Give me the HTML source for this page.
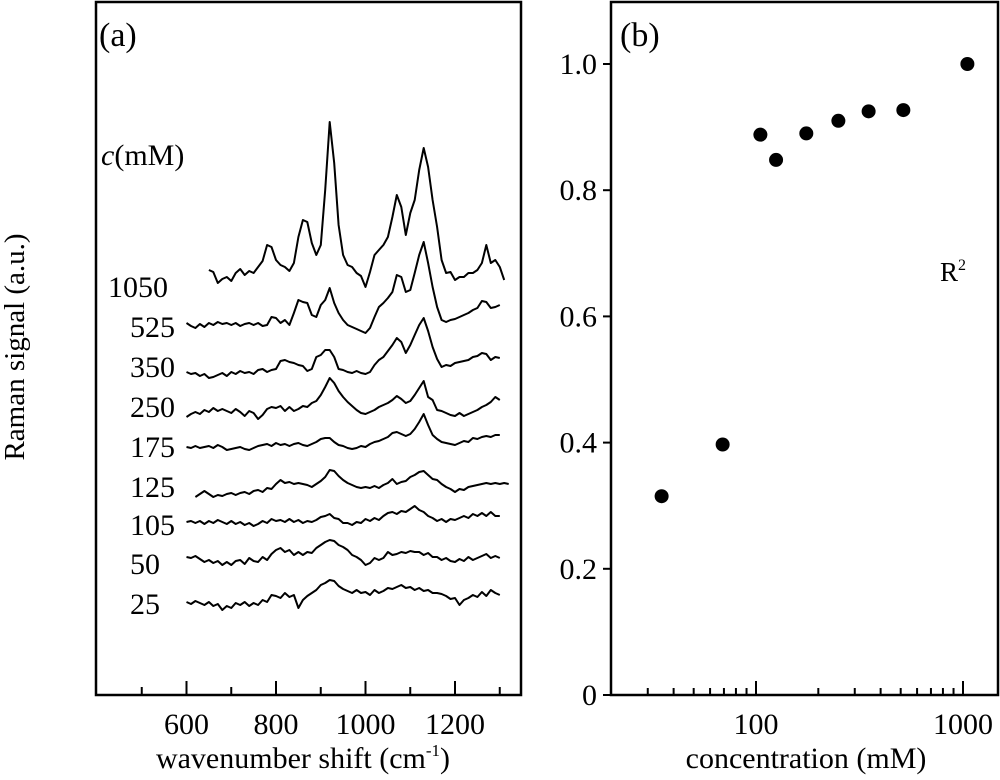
<!DOCTYPE html>
<html><head><meta charset="utf-8"><style>
body{margin:0;background:#fff}
svg text{font-family:"Liberation Serif",serif;fill:#000}
</style></head><body>
<svg id="fig" width="1000" height="780" viewBox="0 0 1000 780" xmlns="http://www.w3.org/2000/svg" style="position:absolute;left:0;top:0">
<g id="pa"></g>
<g id="pb"></g>
<text x="99" y="46" font-size="34">(a)</text>
<text x="620" y="46" font-size="34">(b)</text>
<text x="101" y="165" font-size="30"><tspan font-style="italic">c</tspan>(mM)</text>
<text x="303" y="768" font-size="30" text-anchor="middle">wavenumber shift (cm<tspan dy="-12" font-size="17">-1</tspan><tspan dy="12">)</tspan></text>
<text x="806" y="768" font-size="30" text-anchor="middle">concentration (mM)</text>
<text transform="translate(24,347) rotate(-90)" font-size="29" text-anchor="middle">Raman signal (a.u.)</text>
<text x="940" y="281" font-size="27">R<tspan dy="-11" font-size="16">2</tspan></text>
</svg>
<script>
// ---------- Panel (a) data ----------
const wnStart = 600, wnStep = 10;
const concLabels = ["1050","525","350","250","175","125","105","50","25"];
const traceOffsets = [420, 370, 320, 280, 248, 203, 173, 135, 92];
const t1050 = [null,null,null,null,null,5,3,-8,-4,-2,-6,2,6,0,4,2,8,14,30,28,15,10,8,4,12,38,55,53,32,20,30,85,153,112,50,20,10,8,2,-1,-12,3,20,25,30,38,58,80,68,40,62,75,105,127,108,75,48,15,2,3,-5,-2,-2,2,2,5,12,30,12,15,8,-5,null];
const t525 = [2,-1,-3,1,-2,2,0,3,1,2,0,2,-1,1,2,0,2,-1,0,8,7,2,5,0,12,25,23,22,10,8,20,25,37,22,12,5,0,-2,-4,-6,-8,-3,8,18,22,27,33,50,48,33,35,52,70,83,62,38,18,5,3,5,6,8,10,12,15,17,24,23,17,18,20,null,null];
const t350 = [3,1,2,-1,1,-3,-2,0,2,-1,3,1,4,2,3,1,5,6,3,5,6,14,15,13,12,10,9,4,6,18,20,25,25,18,6,5,3,2,4,2,1,3,10,15,18,24,30,37,33,22,30,40,50,57,44,28,16,8,10,9,12,13,14,15,18,19,22,21,15,18,17,null,null];
const t250 = [-2,1,3,1,5,3,7,4,6,4,2,6,3,-1,4,2,-4,0,6,8,7,9,4,8,4,6,9,8,12,14,20,28,37,32,24,18,13,9,5,2,1,3,5,8,10,12,15,19,16,12,14,20,27,34,18,15,5,4,2,0,-1,2,-1,1,3,5,8,10,13,18,15,null,null];
const t175 = [0,-1,1,-1,0,1,-1,2,0,-3,-2,-1,0,-2,-3,-1,1,2,3,1,4,2,3,1,3,4,2,1,3,5,8,9,9,5,2,1,-1,-2,-1,1,0,3,5,6,8,10,14,15,13,11,13,18,25,33,22,12,8,5,4,3,2,4,6,5,9,8,10,11,10,12,12,null,null];
const t125 = [null,null,-5,-2,1,-2,-5,-3,-4,-2,-1,-3,-1,0,-2,1,2,0,4,3,8,12,9,10,8,9,8,7,5,8,11,15,22,21,16,12,9,7,5,4,5,4,6,4,7,9,13,8,10,11,15,17,20,21,17,13,12,8,5,3,0,3,2,5,6,7,8,9,8,9,8,9,8];
const t105 = [0,1,-1,1,-2,1,-1,2,0,-2,1,-2,0,-3,-1,-4,-2,1,-1,3,1,2,0,3,0,2,-1,1,0,2,5,6,8,4,3,-1,-1,-3,0,-1,3,1,4,2,6,9,10,8,11,10,13,16,12,10,6,4,1,3,0,3,2,4,6,4,8,6,9,6,10,6,6,null,null];
const t50 = [3,2,4,1,-2,0,-3,-1,-5,-2,-5,-1,0,-4,2,-1,-2,3,0,6,10,12,8,10,5,8,5,8,7,12,15,18,20,19,15,13,10,5,3,0,-5,-3,2,0,2,8,5,6,8,7,9,8,8,5,7,3,3,0,2,-1,-2,1,-1,3,0,2,4,6,2,4,2,null,null];
const t25 = [1,-1,2,0,-2,1,-3,-1,-7,-3,-5,0,-2,1,-3,0,-2,3,1,8,7,5,10,6,8,-5,3,7,10,13,18,20,23,22,17,14,12,10,13,10,11,8,13,10,12,15,14,16,18,15,16,13,15,12,13,10,10,9,7,4,5,-2,3,5,8,6,11,7,13,10,8,null,null];
const traces = [t1050,t525,t350,t250,t175,t125,t105,t50,t25];
const xTicksA = [600,800,1000,1200];
const xMinorA = [500,700,900,1100,1300];

// ---------- Panel (b) data ----------
const concB = [35, 69, 105, 125, 175, 250, 350, 515, 1050];
const r2B = [0.315, 0.397, 0.888, 0.848, 0.890, 0.910, 0.925, 0.927, 1.0];
const yTicksB = [0, 0.2, 0.4, 0.6, 0.8, 1.0];
const yTickLabelsB = ["0","0.2","0.4","0.6","0.8","1.0"];
const xTicksB = [100, 1000];
const xMinorB = [30,40,50,60,70,80,90,200,300,400,500,600,700,800,900];

const NS = "http://www.w3.org/2000/svg";
function mk(parent, tag, attrs, text){
  const e = document.createElementNS(NS, tag);
  for (const k in attrs) e.setAttribute(k, attrs[k]);
  if (text !== undefined) e.textContent = text;
  parent.appendChild(e);
  return e;
}
const labelY = [297, 337, 377, 417, 457, 497, 535, 574, 614];

// Panel a
const pa = document.getElementById('pa');
const aL=96, aR=521, aT=2, aB=695;
const xA = w => 186.5 + (w - 600) * 0.4475;
const yA = v => aB - v;
let fr = mk(pa,'rect',{x:aL,y:aT,width:aR-aL,height:aB-aT,fill:'none',stroke:'#000','stroke-width':2.5});


xTicksA.forEach(t=>{
  const l = mk(pa,'line',{x1:xA(t),x2:xA(t),y1:aB,y2:aB-14,stroke:'#000','stroke-width':2});
  
  
  const tx = mk(pa,'text',{x:xA(t),y:734,'text-anchor':'middle','font-size':30},String(t));
  
  
});
xMinorA.forEach(t=>{
  const l = mk(pa,'line',{x1:xA(t),x2:xA(t),y1:aB,y2:aB-8,stroke:'#000','stroke-width':2});
  
  
});
traces.forEach((tr,i)=>{
  let d='', started=false;
  tr.forEach((v,j)=>{
    if (v===null){started=false;return;}
    const x = xA(wnStart + j*wnStep), y = yA(traceOffsets[i] + v);
    d += (started?'L':'M') + x.toFixed(1) + ' ' + y.toFixed(1) + ' ';
    started = true;
  });
  const p = mk(pa,'path',{d:d,fill:'none',stroke:'#000','stroke-width':2,'stroke-linejoin':'round'});
  
  
  const lb = mk(pa,'text',{x:i===0?108:130,y:labelY[i],'font-size':30},concLabels[i]);
  
  
});

// Panel b
const pb = document.getElementById('pb');
const bL=611, bR=998, bT=2, bB=695;
const xB = c => 756 + (Math.log10(c) - 2) * 207;
const yB = r => bB - r * 631;
let fb = mk(pb,'rect',{x:bL,y:bT,width:bR-bL,height:bB-bT,fill:'none',stroke:'#000','stroke-width':2.5});


yTicksB.forEach((t,i)=>{
  const l = mk(pb,'line',{x1:bL,x2:bL-8,y1:yB(t),y2:yB(t),stroke:'#000','stroke-width':2});
  
  
  const tx = mk(pb,'text',{x:597,y:yB(t)+10,'text-anchor':'end','font-size':30},yTickLabelsB[i]);
  
  
});
xTicksB.forEach(t=>{
  const l = mk(pb,'line',{x1:xB(t),x2:xB(t),y1:bB,y2:bB-14,stroke:'#000','stroke-width':2});
  
  
  const tx = mk(pb,'text',{x:xB(t),y:734,'text-anchor':'middle','font-size':30},String(t));
  
  
});
xMinorB.forEach(t=>{
  const l = mk(pb,'line',{x1:xB(t),x2:xB(t),y1:bB,y2:bB-7,stroke:'#000','stroke-width':2});
  
  
});
concB.forEach((c,i)=>{
  const p = mk(pb,'circle',{cx:xB(c),cy:yB(r2B[i]),r:7,fill:'#000'});
  
  
});
</script>
</body></html>
